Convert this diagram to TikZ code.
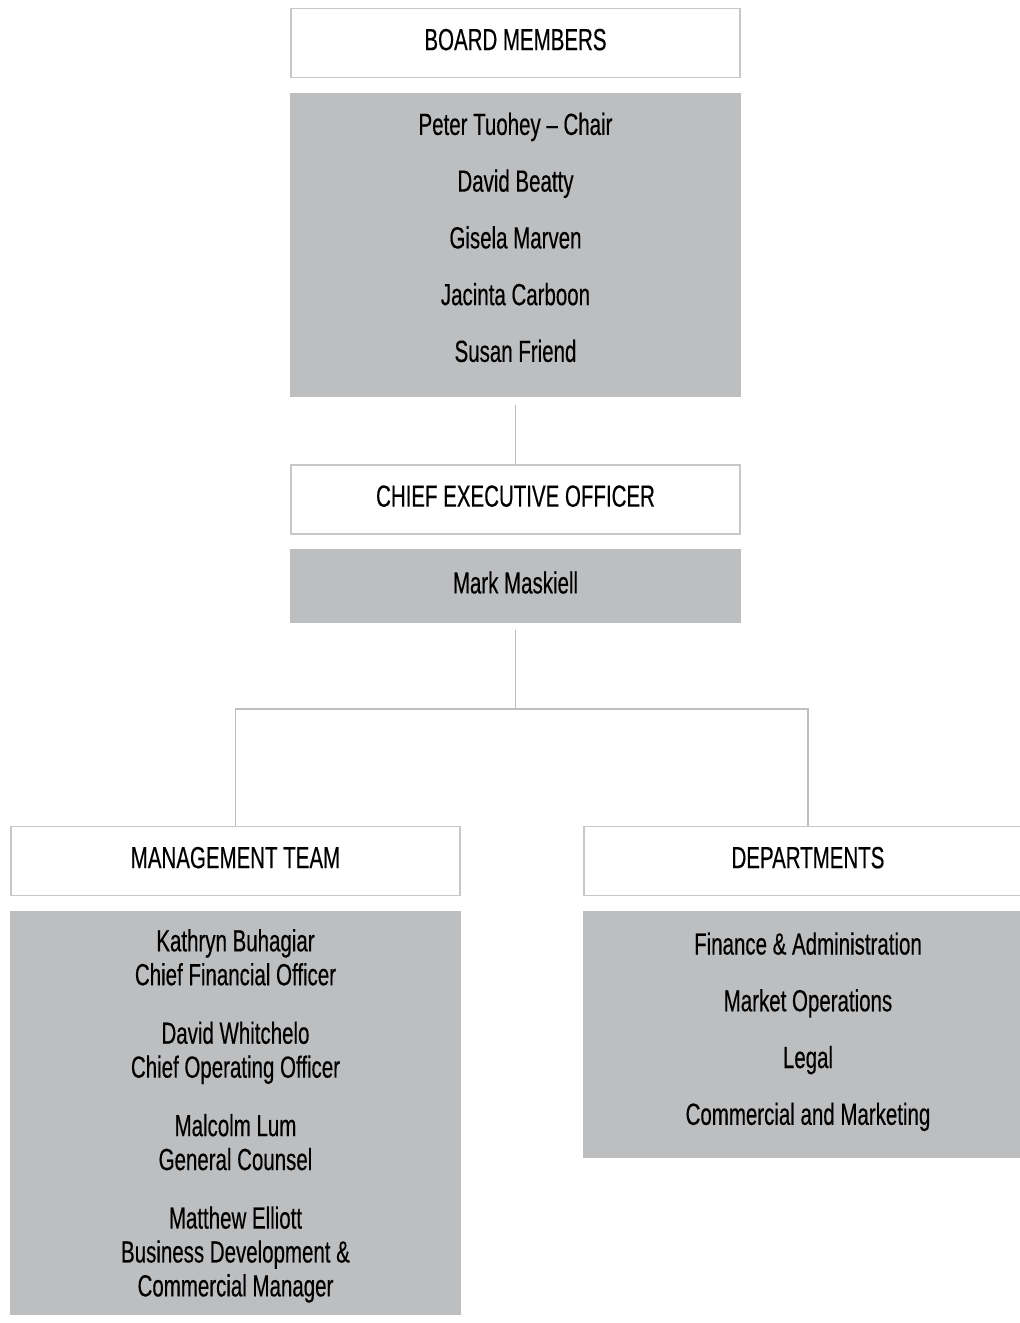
\documentclass[tikz,border=0pt]{standalone}
\usepackage{fontspec}
\setmainfont{Liberation Sans}[FakeStretch=0.67,FakeBold=0.35]
\usetikzlibrary{positioning}
\definecolor{Frame}{HTML}{C6C7C9}
\definecolor{Panel}{HTML}{BDBEC0}
\definecolor{Wire}{HTML}{BEBFC1}

\begin{document}
\begin{tikzpicture}[x=0.02cm,y=-0.02cm,node distance=0.28cm,
    head/.style={draw=Frame,line width=1.1pt,fill=white,minimum width=8.98cm,
      minimum height=1.38cm,inner sep=0pt,text depth=4pt,
      font=\fontsize{17.4}{20}\selectfont},
    panel/.style={fill=Panel,minimum width=9.02cm,align=center,inner sep=0pt,
      font=\fontsize{17.4}{32.3}\selectfont},
    wire/.style={draw=Wire,line width=0.85pt}]
  \useasboundingbox (0,0) rectangle (1020,1323);
  % board
  \node[head] (board) at (515.5,43) {BOARD MEMBERS};
  \node[panel,below=of board,minimum height=6.08cm,text depth=8.5pt] (boardlist) {
    Peter Tuohey -- Chair\\
    David Beatty\\
    Gisela Marven\\
    Jacinta Carboon\\
    Susan Friend
  };
  % ceo
  \node[head] (ceo) at (515.5,499.5) {CHIEF EXECUTIVE OFFICER};
  \node[panel,below=of ceo,minimum height=1.48cm,text depth=4.5pt] (ceoname) {Mark Maskiell};
  % management team and departments
  \node[head] (mgmt) at (235.5,861) {MANAGEMENT TEAM};
  \node[panel,below=of mgmt,minimum height=8.08cm,text depth=-2pt,
    font=\fontsize{17.4}{19.3}\selectfont] (mgmtlist) {
    Kathryn Buhagiar\\Chief Financial Officer\\[14pt]
    David Whitchelo\\Chief Operating Officer\\[14pt]
    Malcolm Lum\\General Counsel\\[14pt]
    Matthew Elliott\\Business Development \&\\Commercial Manager
  };
  \node[head] (dept) at (808,861) {DEPARTMENTS};
  \node[panel,below=of dept,minimum height=4.94cm,text depth=6.5pt] (deptlist) {
    Finance \& Administration\\
    Market Operations\\
    Legal\\
    Commercial and Marketing
  };
  % connectors
  \coordinate (fork) at (515.5,709);
  \draw[wire] ([yshift=-0.16cm]boardlist.south) -- (ceo.north);
  \draw[wire] ([yshift=-0.12cm]ceoname.south) -- (fork);
  \draw[wire] (mgmt.north) |- (fork) -| (dept.north);
\end{tikzpicture}
\end{document}
